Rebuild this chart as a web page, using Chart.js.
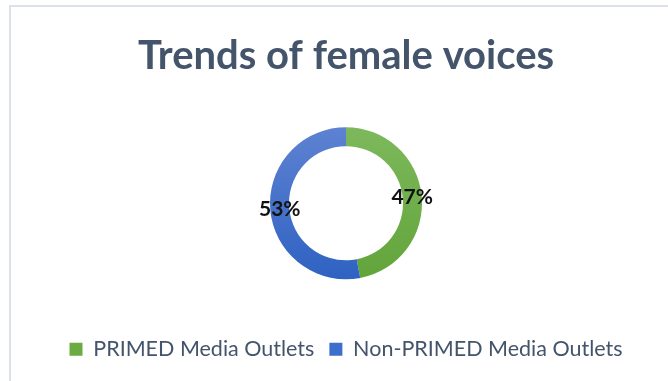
<!DOCTYPE html>
<html>
<head>
<meta charset="utf-8">
<script src="https://cdn.jsdelivr.net/npm/chart.js@4.4.0/dist/chart.umd.min.js"></script>
<style>
  html, body { margin: 0; padding: 0; background: #fff; overflow: hidden; }
  #wrap { position: relative; width: 668px; height: 381px; }
  #frame {
    position: absolute; left: 9px; top: 5px; width: 700px; height: 400px;
    border-left: 2px solid #dde2ea; border-top: 2px solid #dde2ea;
  }
  #grafico { position: absolute; left: 0; top: 0; }
</style>
</head>
<body>
<div id="wrap">
  <div id="frame"></div>
  <canvas id="grafico" width="668" height="381"></canvas>
</div>
<script>
const titulo = 'Trends of female voices';
const categorias = ['PRIMED Media Outlets', 'Non-PRIMED Media Outlets'];
const valores = [47, 53];

// colores: arriba claro, abajo oscuro
const coloresClaros = ['#7db95c', '#5e82d2'];
const coloresOscuros = ['#62a43a', '#2f62c2'];
const coloresLeyenda = ['#6aab42', '#3e6ecb'];

const RADIO = 76;

function degradado(ctx) {
  const chart = ctx.chart;
  const area = chart.chartArea;
  const i = ctx.dataIndex;
  if (!area) return coloresOscuros[i];
  const cy = (area.top + area.bottom) / 2;
  const g = chart.ctx.createLinearGradient(0, cy - RADIO, 0, cy + RADIO);
  g.addColorStop(0, coloresClaros[i]);
  g.addColorStop(1, coloresOscuros[i]);
  return g;
}

// etiquetas de porcentaje sobre el anillo
const etiquetas = {
  id: 'etiquetas',
  afterDatasetsDraw(chart) {
    const ctx = chart.ctx;
    const meta = chart.getDatasetMeta(0);
    const total = valores.reduce((a, b) => a + b, 0);
    ctx.save();
    ctx.font = 'bold 21px Lato';
    ctx.fillStyle = '#111';
    ctx.textAlign = 'center';
    ctx.textBaseline = 'middle';
    meta.data.forEach((arc, i) => {
      const p = arc.getProps(['x', 'y', 'startAngle', 'endAngle', 'innerRadius', 'outerRadius']);
      const ang = (p.startAngle + p.endAngle) / 2;
      const r = (p.innerRadius + p.outerRadius) / 2;
      const txt = Math.round(valores[i] / total * 100) + '%';
      ctx.fillText(txt, p.x + Math.cos(ang) * r, p.y + Math.sin(ang) * r);
    });
    ctx.restore();
  }
};

new Chart(document.getElementById('grafico').getContext('2d'), {
  type: 'doughnut',
  data: {
    labels: categorias,
    datasets: [{
      data: valores,
      backgroundColor: degradado,
      borderWidth: 0,
      radius: RADIO
    }]
  },
  options: {
    responsive: false,
    animation: false,
    cutout: '75%',
    layout: { padding: { left: 24, right: 0, top: 0, bottom: 11 } },
    plugins: {
      tooltip: { enabled: false },
      title: {
        display: true,
        text: titulo,
        color: '#44546a',
        font: { family: 'Lato', size: 40, weight: 'bold', lineHeight: 1.2 },
        padding: { top: 32, bottom: 3 }
      },
      legend: {
        position: 'bottom',
        labels: {
          color: '#44546a',
          font: { family: 'Lato', size: 21.5 },
          boxWidth: 13,
          boxHeight: 13,
          padding: 15,
          generateLabels(chart) {
            return categorias.map((c, i) => ({
              text: c,
              fillStyle: coloresLeyenda[i],
              strokeStyle: coloresLeyenda[i],
              lineWidth: 0,
              fontColor: '#44546a',
              index: i
            }));
          }
        }
      }
    }
  },
  plugins: [etiquetas]
});
</script>
</body>
</html>
